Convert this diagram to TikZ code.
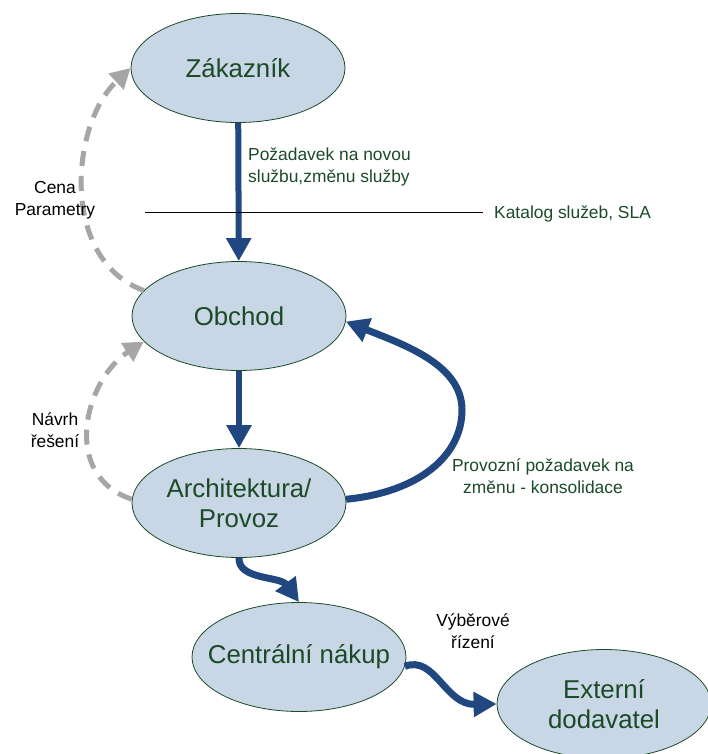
\documentclass[tikz,border=0pt]{standalone}
\usepackage{fontspec}
\setmainfont{Liberation Sans}
\usetikzlibrary{arrows.meta,shapes.geometric}
\definecolor{fillb}{HTML}{C8D6E5}
\definecolor{txtg}{HTML}{1B4A27}
\definecolor{arrb}{HTML}{20477F}
\definecolor{grayd}{HTML}{A6A6A6}
\begin{document}
\begin{tikzpicture}[x=1pt,y=-1pt,
 ell/.style={ellipse, draw=txtg, line width=0.8pt, fill=fillb, minimum width=214pt, minimum height=109pt,
   inner xsep=-30pt, inner ysep=-12pt, text=txtg, font=\fontsize{25.8}{30}\selectfont, align=center},
 lbl/.style={font=\fontsize{17.4}{21.5}\selectfont, align=center, inner sep=0pt},
 barr/.style={draw=arrb, line width=6pt, -{Triangle[width=24pt,length=23pt]}},
 garr/.style={draw=grayd, line width=5pt, dash pattern=on 15pt off 10pt, -{Triangle[width=21pt,length=20pt]}},
]
\useasboundingbox (0,0) rectangle (707,754);
\node[ell] (za) at (238,68) {Zákazník};
\node[ell] (ob) at (239,316) {Obchod};
\node[ell] (ar) at (239,503) {Architektura/\\Provoz};
\node[ell] (cn) at (299,657) {Centrální nákup};
\node[ell] (ex) at (604,704) {Externí\\dodavatel};

\draw[barr] (za) -- (ob);
\draw[barr] (ob) -- (ar);
\coordinate (l1) at (145,212);
\coordinate (l2) at (483,212);
\draw[line width=0.8pt] (l1) -- (l2);

\draw[barr, line width=7pt] (ar.2) .. controls (420,492) and (462,455) .. (462,410)
   .. controls (462,365) and (405,345) .. (ob.-3);
\draw[barr, line width=7pt] (ar.-90) .. controls (238,580) and (280,576) .. (cn.north);
\draw[barr, line width=7pt] (cn.-5) .. controls (435,655) and (445,705) .. (ex.west);

\draw[garr] (ob.165) .. controls (60,260) and (70,125) .. (za.west);
\draw[garr] (ar.178) .. controls (60,475) and (85,380) .. (ob.195);

\node[lbl, text=txtg, align=left, anchor=west] (pz) at (248,167) {Požadavek na novou\\službu,změnu služby};
\node[lbl, text=txtg, anchor=west] (kat) at (494,214) {Katalog služeb, SLA};
\node[lbl] (cena) at (55,200) {Cena\\Parametry};
\node[lbl] (navrh) at (55,430) {Návrh\\řešení};
\node[lbl, text=txtg] (prov) at (543,476) {Provozní požadavek na\\změnu - konsolidace};
\node[lbl] (vyb) at (473,631) {Výběrové\\řízení};
\end{tikzpicture}
\end{document}
